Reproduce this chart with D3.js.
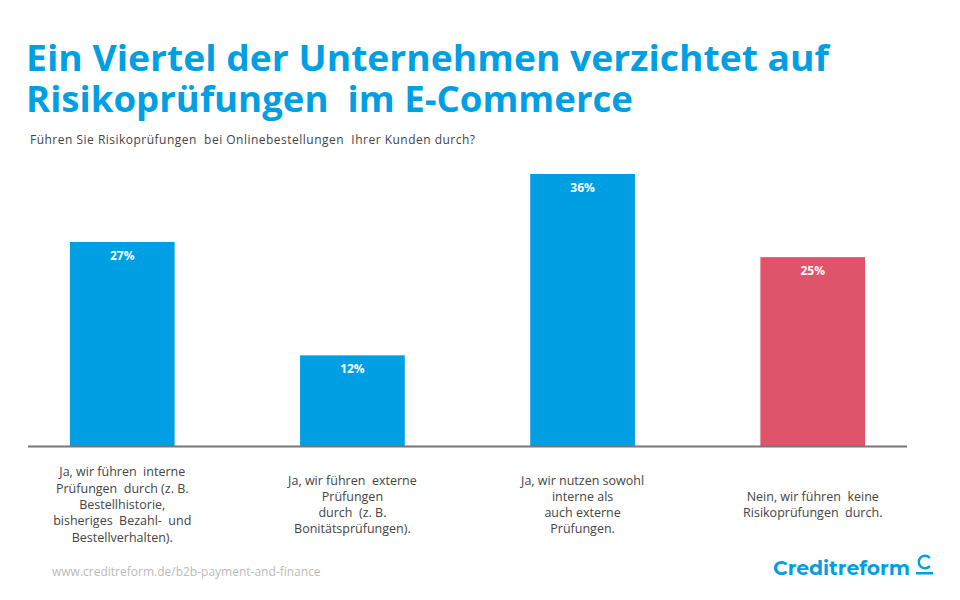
<!DOCTYPE html>
<html>
<head>
<meta charset="utf-8">
<script src="https://cdn.jsdelivr.net/npm/d3@7"></script>
<style>
  body { margin: 0; background: #fff; }
  svg { display: block; font-family: "Open Sans", sans-serif; }
  text { white-space: pre; }
</style>
</head>
<body>
<div id="chart"></div>
<script>
// Data
const titleLines = ["Ein Viertel der Unternehmen verzichtet auf", "Risikoprüfungen  im E-Commerce"];
const categories = [
    ["Ja, wir führen  interne", "Prüfungen  durch (z. B.", "Bestellhistorie,", "bisheriges  Bezahl-  und", "Bestellverhalten)."],
    ["Ja, wir führen  externe", "Prüfungen", "durch  (z. B.", "Bonitätsprüfungen)."],
    ["Ja, wir nutzen sowohl", "interne als", "auch externe", "Prüfungen."],
    ["Nein, wir führen  keine", "Risikoprüfungen  durch."]
];
const values = [27, 12, 36, 25];
const barColors = ["#009fe3", "#009fe3", "#009fe3", "#e0546b"];

const width = 960;
const height = 600;
const blue = "#009fe3";

const svg = d3.select("#chart").append("svg")
    .attr("width", width)
    .attr("height", height);

// Title (one text, two lines)
const titleWidths = [803, 607];
const title = svg.append("text").attr("fill", blue)
    .attr("font-weight", 700)
    .attr("font-size", 36);
titleLines.forEach((l, i) => {
    title.append("tspan")
        .attr("x", 26).attr("y", 71 + i * 41)
        .attr("textLength", titleWidths[i]).attr("lengthAdjust", "spacingAndGlyphs")
        .text(l);
});

svg.append("text")
    .attr("x", 30).attr("y", 144)
    .attr("font-size", 12).attr("fill", "#444")
    .attr("textLength", 445).attr("lengthAdjust", "spacing")
    .text("Führen Sie Risikoprüfungen  bei Onlinebestellungen  Ihrer Kunden durch?");

// Scales
const x = d3.scaleBand()
    .domain(d3.range(values.length))
    .range([28, 907])
    .paddingInner(0.545)
    .paddingOuter(0.182);

const y = d3.scaleLinear()
    .domain([0, 36])
    .range([446, 174]);

// Bars
svg.append("g").selectAll("rect")
    .data(values)
    .join("rect")
    .attr("x", (d, i) => x(i))
    .attr("y", d => y(d))
    .attr("width", x.bandwidth())
    .attr("height", d => y(0) - y(d))
    .attr("fill", (d, i) => barColors[i]);

// Value labels
svg.append("g").selectAll("text")
    .data(values)
    .join("text")
    .attr("x", (d, i) => x(i) + x.bandwidth() / 2)
    .attr("y", d => y(d) + 18)
    .attr("text-anchor", "middle")
    .attr("font-size", 12)
    .attr("font-weight", 700)
    .attr("fill", "#fff")
    .text(d => d + "%");

// Axis line
svg.append("line")
    .attr("x1", 28).attr("x2", 907)
    .attr("y1", y(0) + 0.5).attr("y2", y(0) + 0.5)
    .attr("stroke", "#777").attr("stroke-width", 2);

// Category labels, vertically centred
const lineH = 16.3;
const labels = svg.append("g")
    .attr("font-size", 12.5)
    .attr("fill", "#444")
    .attr("text-anchor", "middle");
categories.forEach((lines, i) => {
    const cx = x(i) + x.bandwidth() / 2;
    const top = 509 - (lines.length - 1) * lineH / 2;
    const t = labels.append("text");
    lines.forEach((l, j) => {
        t.append("tspan").attr("x", cx).attr("y", top + j * lineH).text(l);
    });
});

// Footer
svg.append("text")
    .attr("x", 52).attr("y", 576)
    .attr("font-size", 12)
    .attr("fill", "#bbb")
    .text("www.creditreform.de/b2b-payment-and-finance");

// Logo
const logo = svg.append("g");
logo.append("text")
    .attr("x", 773).attr("y", 575)
    .attr("font-family", "Montserrat, 'DejaVu Sans', sans-serif")
    .attr("font-size", 20)
    .attr("font-weight", 700)
    .attr("fill", blue)
    .attr("textLength", 137).attr("lengthAdjust", "spacingAndGlyphs")
    .text("Creditreform");
logo.append("path")
    .attr("d", d3.arc()({ innerRadius: 5, outerRadius: 7.5, startAngle: 0.72 * Math.PI, endAngle: 2.28 * Math.PI }))
    .attr("transform", "translate(925,562)")
    .attr("fill", blue);
logo.append("rect")
    .attr("x", 916).attr("y", 572).attr("width", 17).attr("height", 2.5)
    .attr("fill", blue);
</script>
</body>
</html>
